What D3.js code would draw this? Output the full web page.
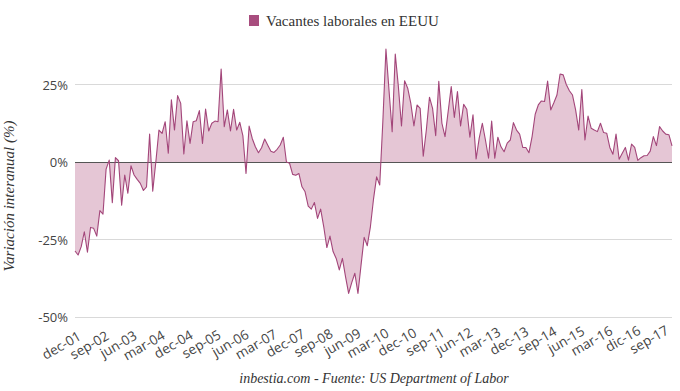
<!DOCTYPE html>
<html>
<head>
<meta charset="utf-8">
<script src="https://cdn.jsdelivr.net/npm/d3@7"></script>
<style>
  body { margin: 0; background: #fff; }
  svg { display: block; }
  text { font-family: "Liberation Serif", "DejaVu Serif", serif; }
  .tick-label { font-family: "Open Sans", "Noto Sans", sans-serif; }
</style>
</head>
<body>
<svg id="chart" width="680" height="391"></svg>
<script>
// ---- Data (monthly, dec-01 .. dec-17), YoY % change in US job openings ----
const seriesName = "Vacantes laborales en EEUU";
const values = [
  -28.7, -30.0, -27.3, -22.5, -29.1, -21.1, -21.4, -23.9, -15.7, -16.8,
  -2.3, 0.6, -13.1, 1.4, 0.4, -13.9, -4.2, -10.1, -1.2, -4.2,
  -5.6, -6.9, -9.2, -8.0, 9.0, -9.4, 0.1, 10.3, 9.2, 13.0,
  2.8, 20.1, 10.3, 21.4, 18.9, 2.6, 13.3, 6.0, 13.0, 13.3,
  16.6, 6.0, 17.1, 10.0, 12.5, 13.2, 13.0, 30.0, 11.4, 16.8,
  10.0, 17.0, 10.3, 12.8, 8.4, -3.7, 11.6, 7.6, 4.9, 3.0,
  4.6, 7.4, 5.4, 3.5, 3.1, 4.1, 5.5, 8.0, 0.0, -0.4,
  -4.0, -4.3, -3.7, -8.0, -9.6, -14.2, -15.2, -13.1, -18.2, -15.2,
  -20.9, -27.6, -23.9, -28.9, -31.1, -34.8, -31.1, -37.0, -42.4, -38.9,
  -35.9, -42.4, -33.2, -24.3, -27.0, -20.9, -12.0, -4.8, -7.4, 13.0,
  36.4, 23.0, 9.8, 34.8, 24.3, 11.6, 26.2, 23.8, 18.9, 11.6,
  18.4, 17.3, 1.9, 10.4, 20.9, 17.3, 8.5, 26.0, 12.5, 8.2,
  16.2, 24.3, 14.4, 22.7, 11.6, 18.6, 17.0, 8.0, 15.2, 1.0,
  7.7, 12.5, 7.1, 1.2, 13.2, 1.2, 8.0, 4.9, 3.3, 6.1,
  7.1, 12.7, 10.3, 9.0, 4.7, 4.7, 3.0, 8.2, 15.4, 18.4,
  19.7, 19.5, 26.1, 16.8, 19.1, 21.6, 28.4, 28.1, 25.0, 23.0,
  21.6, 16.8, 10.3, 23.4, 7.1, 14.8, 10.9, 10.3, 9.8, 12.5,
  9.5, 9.3, 4.7, 2.5, 9.0, 0.9, 2.8, 4.7, 0.6, 5.8,
  4.7, 0.5, 1.4, 2.0, 2.1, 3.5, 8.2, 5.3, 11.4, 10.0,
  9.0, 8.8, 5.2
];
// category index of each labelled tick, and its label
const tickIndex = [0, 9, 18, 27, 36, 45, 54, 63, 72, 81, 90, 99, 108, 117, 126, 135, 144, 153, 162, 171, 180, 189];
const tickLabels = ["dec-01", "sep-02", "jun-03", "mar-04", "dec-04", "sep-05", "jun-06", "mar-07",
  "dec-07", "sep-08", "jun-09", "mar-10", "dec-10", "sep-11", "jun-12", "mar-13", "dec-13",
  "sep-14", "jun-15", "mar-16", "dic-16", "sep-17"];
const yTicks = [-50, -25, 0, 25];
const yTickLabels = ["-50%", "-25%", "0%", "25%"];
const yTitle = "Variación interanual (%)";
const sourceText = "inbestia.com - Fuente: US Department of Labor";

// ---- Drawing ----
const svg = d3.select("#chart");
const left = 75, right = 672;
const lineColor = "#a3467a";
const fillColor = "#e5c6d5";

const x = d3.scaleLinear().domain([0, values.length - 1]).range([left, right]);
const y = d3.scaleLinear().domain([-50, 40]).range([317, 38]);

// gridlines
svg.append("g").selectAll("line")
  .data(yTicks.filter(d => d !== 0))
  .join("line")
  .attr("x1", left).attr("x2", right)
  .attr("y1", d => Math.round(y(d)) + 0.5).attr("y2", d => Math.round(y(d)) + 0.5)
  .attr("stroke", "#d9d9d9").attr("stroke-width", 1);

// y tick labels
svg.append("g").selectAll("text")
  .data(yTicks)
  .join("text")
  .attr("class", "tick-label")
  .attr("x", 68).attr("y", d => y(d) + 5)
  .attr("text-anchor", "end")
  .attr("font-size", 13)
  .attr("fill", "#444")
  .text((d, i) => yTickLabels[i]);

// area
const area = d3.area()
  .x((d, i) => x(i))
  .y0(y(0))
  .y1(d => y(d));
svg.append("path")
  .datum(values)
  .attr("d", area)
  .attr("fill", fillColor);

// zero line
svg.append("line")
  .attr("x1", left).attr("x2", right)
  .attr("y1", Math.round(y(0)) + 0.5).attr("y2", Math.round(y(0)) + 0.5)
  .attr("stroke", "#555").attr("stroke-width", 1.2);

// series line
const line = d3.line()
  .x((d, i) => x(i))
  .y(d => y(d));
svg.append("path")
  .datum(values)
  .attr("d", line)
  .attr("fill", "none")
  .attr("stroke", lineColor)
  .attr("stroke-width", 1.1)
  .attr("stroke-linejoin", "round");

// x tick labels
svg.append("g").selectAll("text")
  .data(tickIndex)
  .join("text")
  .attr("class", "tick-label")
  .attr("transform", d => `translate(${x(d) + 7},${339 - 6 * (x(d) - left) / (right - left)}) rotate(-30)`)
  .attr("text-anchor", "end")
  .attr("font-size", 13.5)
  .attr("fill", "#444")
  .text((d, i) => tickLabels[i]);

// y-axis title
svg.append("text")
  .attr("transform", `translate(14,${196}) rotate(-90)`)
  .attr("text-anchor", "middle")
  .attr("font-size", 15)
  .attr("font-style", "italic")
  .attr("fill", "#333")
  .text(yTitle);

// legend
svg.append("rect")
  .attr("x", 249).attr("y", 15).attr("width", 10).attr("height", 11)
  .attr("fill", "#a84d7e");
svg.append("text")
  .attr("x", 266).attr("y", 26)
  .attr("font-size", 15)
  .attr("fill", "#333")
  .text(seriesName);

// source
svg.append("text")
  .attr("x", 374).attr("y", 383)
  .attr("text-anchor", "middle")
  .attr("font-size", 14)
  .attr("font-style", "italic")
  .attr("fill", "#333")
  .text(sourceText);
</script>
</body>
</html>
